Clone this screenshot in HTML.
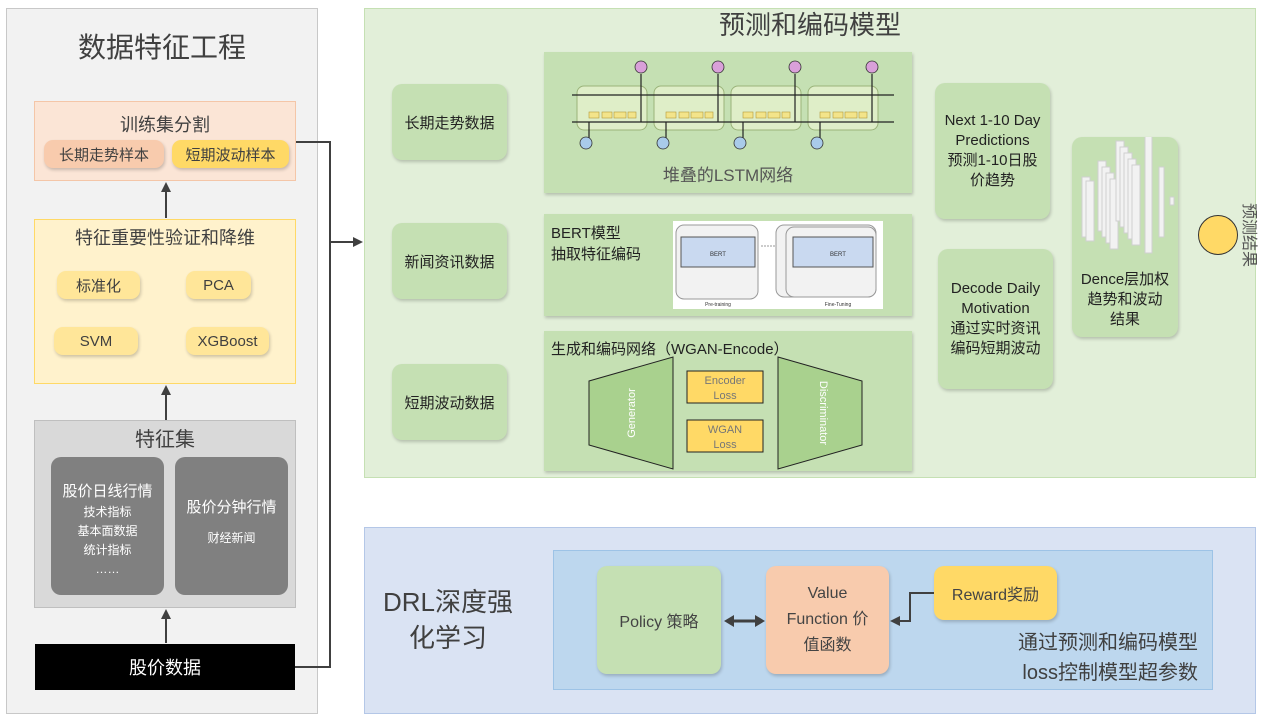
<!DOCTYPE html>
<html><head><meta charset="utf-8"><style>
body{margin:0;width:1263px;height:724px;background:#fff;position:relative;overflow:hidden;font-family:"Liberation Sans","Noto Sans CJK SC",sans-serif}
.a{position:absolute;box-sizing:border-box}
.c{display:flex;align-items:center;justify-content:center;text-align:center}
.pill{position:absolute;box-sizing:border-box;border-radius:9px;display:flex;align-items:center;justify-content:center;font-size:15px;color:#404040;box-shadow:1px 2px 3px rgba(0,0,0,.2)}
.g{background:#c5e0b3;border-radius:10px;box-shadow:1px 2px 3px rgba(0,0,0,.2);font-size:15px;color:#222}
</style></head><body>
<!-- left panel -->
<div class="a" style="left:6px;top:8px;width:312px;height:706px;background:#f2f2f2;border:1px solid #c8c8c8"></div>
<div class="a c" style="left:6px;top:28px;width:312px;height:36px;font-size:28px;color:#404040">数据特征工程</div>
<div class="a" style="left:34px;top:101px;width:262px;height:80px;background:#fbe5d6;border:1px solid #f4c6a8"></div>
<div class="a c" style="left:34px;top:112px;width:262px;height:24px;font-size:18px;color:#404040">训练集分割</div>
<div class="pill" style="left:44px;top:140px;width:120px;height:28px;background:#f8cbad">长期走势样本</div>
<div class="pill" style="left:172px;top:140px;width:117px;height:28px;background:#ffd966">短期波动样本</div>
<div class="a" style="left:34px;top:219px;width:262px;height:165px;background:#fff2cc;border:1px solid #ffd966"></div>
<div class="a c" style="left:34px;top:225px;width:262px;height:24px;font-size:18px;color:#404040">特征重要性验证和降维</div>
<div class="pill" style="left:57px;top:271px;width:83px;height:28px;background:#ffe699">标准化</div>
<div class="pill" style="left:186px;top:271px;width:65px;height:28px;background:#ffe699">PCA</div>
<div class="pill" style="left:54px;top:327px;width:84px;height:28px;background:#ffe699">SVM</div>
<div class="pill" style="left:186px;top:327px;width:83px;height:28px;background:#ffe699">XGBoost</div>
<div class="a" style="left:34px;top:420px;width:262px;height:188px;background:#d9d9d9;border:1px solid #bfbfbf"></div>
<div class="a c" style="left:34px;top:424px;width:262px;height:26px;font-size:20px;color:#404040">特征集</div>
<div class="a" style="left:51px;top:457px;width:113px;height:138px;background:#808080;border-radius:10px;color:#fff;text-align:center;font-size:12px;line-height:19px;padding-top:24px">
<div style="font-size:15px;line-height:22px">股价日线行情</div>技术指标<br>基本面数据<br>统计指标<br>……</div>
<div class="a" style="left:175px;top:457px;width:113px;height:138px;background:#808080;border-radius:10px;color:#fff;text-align:center;font-size:12px;padding-top:40px">
<div style="font-size:15px;line-height:22px;margin-bottom:10px">股价分钟行情</div>财经新闻</div>
<div class="a c" style="left:35px;top:644px;width:260px;height:46px;background:#000;color:#fff;font-size:18px">股价数据</div>

<!-- middle panel -->
<div class="a" style="left:364px;top:8px;width:892px;height:470px;background:#e2efd9;border:1px solid #c5e0b3"></div>
<div class="a c" style="left:660px;top:6px;width:300px;height:34px;font-size:26px;color:#404040">预测和编码模型</div>
<div class="a c g" style="left:392px;top:84px;width:115px;height:76px">长期走势数据</div>
<div class="a c g" style="left:392px;top:223px;width:115px;height:76px">新闻资讯数据</div>
<div class="a c g" style="left:392px;top:364px;width:115px;height:76px">短期波动数据</div>

<div class="a" style="left:544px;top:52px;width:368px;height:141px;background:#c5e0b3;box-shadow:1px 2px 3px rgba(0,0,0,.2)"></div>
<div class="a c" style="left:544px;top:160px;width:368px;height:26px;font-size:17px;color:#555">堆叠的LSTM网络</div>
<svg class="a" style="left:544px;top:52px" width="368" height="110">
<g>
<rect x="33" y="34" width="70" height="44" rx="7" fill="#dfeec8" stroke="#9bb37a"/>
<rect x="110" y="34" width="70" height="44" rx="7" fill="#dfeec8" stroke="#9bb37a"/>
<rect x="187" y="34" width="70" height="44" rx="7" fill="#dfeec8" stroke="#9bb37a"/>
<rect x="264" y="34" width="70" height="44" rx="7" fill="#dfeec8" stroke="#9bb37a"/>
</g>
<g stroke="#222" stroke-width="1.2">
<line x1="28" y1="43" x2="350" y2="43"/><line x1="28" y1="70" x2="350" y2="70"/>
<line x1="45" y1="70" x2="45" y2="86"/><line x1="122" y1="70" x2="122" y2="86"/><line x1="199" y1="70" x2="199" y2="86"/><line x1="276" y1="70" x2="276" y2="86"/>
<line x1="97" y1="70" x2="97" y2="22"/><line x1="174" y1="70" x2="174" y2="22"/><line x1="251" y1="70" x2="251" y2="22"/><line x1="328" y1="70" x2="328" y2="22"/>
</g>
<g fill="#f3e48a" stroke="#b59a3a" stroke-width=".6">
<rect x="45" y="60" width="10" height="6"/><rect x="58" y="60" width="10" height="6"/><rect x="70" y="60" width="12" height="6"/><rect x="84" y="60" width="8" height="6"/>
<rect x="122" y="60" width="10" height="6"/><rect x="135" y="60" width="10" height="6"/><rect x="147" y="60" width="12" height="6"/><rect x="161" y="60" width="8" height="6"/>
<rect x="199" y="60" width="10" height="6"/><rect x="212" y="60" width="10" height="6"/><rect x="224" y="60" width="12" height="6"/><rect x="238" y="60" width="8" height="6"/>
<rect x="276" y="60" width="10" height="6"/><rect x="289" y="60" width="10" height="6"/><rect x="301" y="60" width="12" height="6"/><rect x="315" y="60" width="8" height="6"/>
</g>
<g fill="#d9a0d9" stroke="#333" stroke-width=".8">
<circle cx="97" cy="15" r="6"/><circle cx="174" cy="15" r="6"/><circle cx="251" cy="15" r="6"/><circle cx="328" cy="15" r="6"/>
</g>
<g fill="#a9cbea" stroke="#333" stroke-width=".8">
<circle cx="42" cy="91" r="6"/><circle cx="119" cy="91" r="6"/><circle cx="196" cy="91" r="6"/><circle cx="273" cy="91" r="6"/>
</g>
</svg>

<div class="a" style="left:544px;top:214px;width:368px;height:102px;background:#c5e0b3;box-shadow:1px 2px 3px rgba(0,0,0,.2)"></div>
<div class="a" style="left:551px;top:223px;font-size:15px;line-height:21px;color:#222">BERT模型<br>抽取特征编码</div>
<svg class="a" style="left:673px;top:221px" width="210" height="88">
<rect width="210" height="88" fill="#fff"/>
<rect x="3" y="4" width="82" height="74" rx="8" fill="#f2f2f2" stroke="#999"/>
<rect x="8" y="16" width="74" height="30" fill="#c9d9f0" stroke="#555"/>
<text x="45" y="35" font-size="6" text-anchor="middle" fill="#333">BERT</text>
<text x="45" y="85" font-size="5" text-anchor="middle" fill="#333">Pre-training</text>
<rect x="103" y="4" width="100" height="72" rx="8" fill="#f2f2f2" stroke="#999"/>
<rect x="113" y="6" width="90" height="70" rx="8" fill="#f2f2f2" stroke="#999"/>
<rect x="120" y="16" width="80" height="30" fill="#c9d9f0" stroke="#555"/>
<text x="165" y="35" font-size="6" text-anchor="middle" fill="#333">BERT</text>
<text x="165" y="85" font-size="5" text-anchor="middle" fill="#333">Fine-Tuning</text>
<line x1="88" y1="25" x2="103" y2="25" stroke="#999" stroke-dasharray="2,1"/>
</svg>

<div class="a" style="left:544px;top:331px;width:368px;height:140px;background:#c5e0b3;box-shadow:1px 2px 3px rgba(0,0,0,.2)"></div>
<div class="a" style="left:551px;top:338px;font-size:15px;color:#222">生成和编码网络（WGAN-Encode）</div>
<svg class="a" style="left:544px;top:331px" width="368" height="140">
<polygon points="45,50 129,26 129,138 45,114" fill="#a9d18e" stroke="#222"/>
<polygon points="234,26 318,50 318,114 234,138" fill="#a9d18e" stroke="#222"/>
<text transform="translate(91,82) rotate(-90)" font-size="11" fill="#fff" text-anchor="middle" font-family="Liberation Sans">Generator</text>
<text transform="translate(276,82) rotate(90)" font-size="11" fill="#fff" text-anchor="middle" font-family="Liberation Sans">Discriminator</text>
<rect x="143" y="40" width="76" height="32" fill="#ffd966" stroke="#222"/>
<rect x="143" y="89" width="76" height="32" fill="#ffd966" stroke="#222"/>
<text x="181" y="53" font-size="11" fill="#777" text-anchor="middle" font-family="Liberation Sans">Encoder</text>
<text x="181" y="68" font-size="11" fill="#777" text-anchor="middle" font-family="Liberation Sans">Loss</text>
<text x="181" y="102" font-size="11" fill="#777" text-anchor="middle" font-family="Liberation Sans">WGAN</text>
<text x="181" y="117" font-size="11" fill="#777" text-anchor="middle" font-family="Liberation Sans">Loss</text>
</svg>

<div class="a c g" style="left:935px;top:83px;width:115px;height:136px;line-height:20px">Next 1-10 Day<br>Predictions<br>预测1-10日股<br>价趋势</div>
<div class="a c g" style="left:938px;top:249px;width:115px;height:140px;line-height:20px">Decode Daily<br>Motivation<br>通过实时资讯<br>编码短期波动</div>
<div class="a g" style="left:1072px;top:137px;width:106px;height:200px"></div>
<svg class="a" style="left:1072px;top:137px" width="106" height="130">
<g fill="#f2f2f2" stroke="#d0d0d0">
<rect x="10" y="40" width="8" height="60"/><rect x="14" y="44" width="8" height="60"/>
<rect x="26" y="24" width="8" height="70"/><rect x="30" y="30" width="8" height="70"/><rect x="34" y="36" width="8" height="70"/><rect x="38" y="42" width="8" height="70"/>
<rect x="44" y="4" width="8" height="80"/><rect x="48" y="10" width="8" height="80"/><rect x="52" y="16" width="8" height="80"/><rect x="56" y="22" width="8" height="80"/><rect x="60" y="28" width="8" height="80"/>
<rect x="73" y="-2" width="7" height="118"/><rect x="87" y="30" width="5" height="70"/><rect x="98" y="60" width="4" height="8"/>
</g></svg>
<div class="a c" style="left:1072px;top:268px;width:106px;height:64px;font-size:15px;line-height:20px;color:#222">Dence层加权<br>趋势和波动<br>结果</div>
<div class="a" style="left:1198px;top:215px;width:40px;height:40px;border-radius:50%;background:#ffd966;border:1px solid #333"></div>
<div class="a" style="left:1212px;top:226px;width:72px;height:18px;font-size:16px;line-height:18px;color:#555;text-align:center;transform:rotate(90deg)">预测结果</div>

<!-- bottom panel -->
<div class="a" style="left:364px;top:527px;width:892px;height:187px;background:#dae3f3;border:1px solid #b4c7e7"></div>
<div class="a" style="left:378px;top:584px;width:140px;font-size:26px;line-height:36px;color:#404040;text-align:center">DRL深度强<br>化学习</div>
<div class="a" style="left:553px;top:550px;width:660px;height:140px;background:#bdd7ee;border:1px solid #9dc3e6"></div>
<div class="a c" style="left:597px;top:566px;width:124px;height:108px;background:#c5e0b3;border-radius:10px;font-size:16px;color:#444;box-shadow:1px 2px 3px rgba(0,0,0,.2)">Policy 策略</div>
<div class="a c" style="left:766px;top:566px;width:123px;height:108px;background:#f8cbad;border-radius:10px;font-size:16px;line-height:26px;color:#444;box-shadow:1px 2px 3px rgba(0,0,0,.2)">Value<br>Function 价<br>值函数</div>
<div class="a c" style="left:934px;top:566px;width:123px;height:54px;background:#ffd966;border-radius:10px;font-size:16px;color:#444;box-shadow:1px 2px 3px rgba(0,0,0,.2)">Reward奖励</div>
<div class="a" style="left:960px;top:628px;width:238px;font-size:20px;line-height:30px;color:#404040;text-align:right">通过预测和编码模型<br>loss控制模型超参数</div>

<svg class="a" style="left:0;top:0" width="1263" height="724">
<defs><marker id="ar" markerWidth="10" markerHeight="10" refX="8" refY="5" orient="auto" markerUnits="userSpaceOnUse"><path d="M0,0 L10,5 L0,10 z" fill="#404040"/></marker></defs>
<g stroke="#404040" stroke-width="2" fill="none">
<line x1="166" y1="218" x2="166" y2="184" marker-end="url(#ar)"/>
<line x1="166" y1="420" x2="166" y2="387" marker-end="url(#ar)"/>
<line x1="166" y1="643" x2="166" y2="611" marker-end="url(#ar)"/>
<polyline points="296,142 330,142 330,667 295,667"/>
<line x1="330" y1="242" x2="361" y2="242" marker-end="url(#ar)"/>
<polyline points="934,593 910,593 910,621 892,621" marker-end="url(#ar)"/>
<line x1="733" y1="621" x2="756" y2="621" stroke-width="3"/>
</g>
<path d="M724,621 L734,615 L734,627z M765,621 L755,615 L755,627z" fill="#404040"/>
</svg>
</body></html>
